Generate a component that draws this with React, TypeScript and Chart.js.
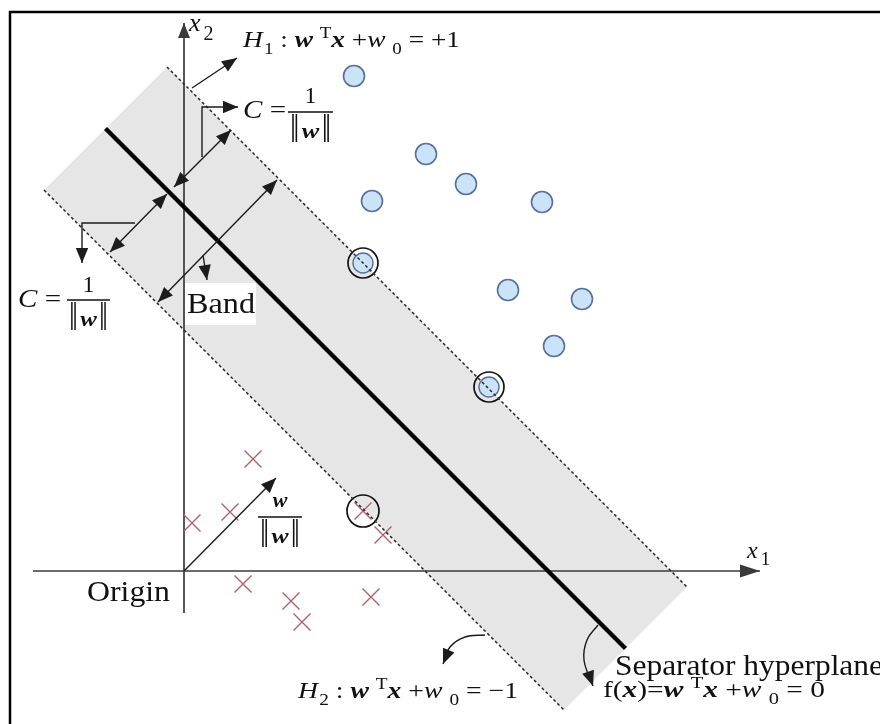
import React, { useEffect, useRef } from 'react';
import { Chart, registerables } from 'chart.js';

Chart.register(...registerables);

// Diagram coordinates (x1 horizontal, x2 vertical), origin where the axes cross.
const X_MIN = -18.4;
const X_MAX = 69.6;
const Y_MIN = -15.3;
const Y_MAX = 57.1;

type P = [number, number];

// Class +1 (blue circles)
const POS_X1 = [17.0, 24.2, 18.8, 28.2, 35.8, 32.4, 39.8, 37.0];
const POS_X2 = [49.5, 41.7, 37.0, 38.7, 36.9, 28.1, 27.2, 22.5];
// Support vectors of class +1
const SV_POS_X1 = [17.9, 30.5];
const SV_POS_X2 = [30.8, 18.4];
// Class -1 (red crosses)
const NEG_X1 = [6.9, 4.6, 0.8, 19.9, 5.9, 10.7, 11.8, 18.7];
const NEG_X2 = [11.2, 5.9, 4.8, 3.6, -1.3, -3.0, -5.1, -2.6];
// Support vector of class -1
const SV_NEG_X1 = [17.9];
const SV_NEG_X2 = [6.0];

// Hyperplanes
const H1_LINE: P[] = [[-1.7, 50.4], [50.3, -1.6]];
const H2_LINE: P[] = [[-14.0, 38.1], [38.0, -13.9]];
const SEPARATOR: P[] = [[-7.85, 44.25], [44.15, -7.75]];
const BAND: P[] = [H1_LINE[0], H1_LINE[1], H2_LINE[1], H2_LINE[0], H1_LINE[0]];

// Axes
const AXIS_X1: P[] = [[-15.1, 0], [57.6, 0]];
const AXIS_X2: P[] = [[0, -4.2], [0, 54.8]];

// Annotation arrows
const ARROWS: { pts: P[]; head: 'end' | 'both'; curve?: boolean }[] = [
  { pts: [[0, 0], [9.2, 9.3]], head: 'end' },
  { pts: [[0.8, 48.3], [5.3, 51.3]], head: 'end' },
  { pts: [[1.8, 41.4], [1.8, 46.4], [5.4, 46.4]], head: 'end' },
  { pts: [[-4.9, 34.8], [-10.2, 34.8], [-10.2, 30.8]], head: 'end' },
  { pts: [[-1.0, 38.4], [4.7, 44.1]], head: 'both' },
  { pts: [[-1.7, 37.7], [-7.4, 31.9]], head: 'both' },
  { pts: [[-2.6, 26.9], [9.3, 39.1]], head: 'both' },
  { pts: [[1.9, 31.6], [2.3, 29.1]], head: 'end' },
  { pts: [[30.1, -6.4], [28.1, -6.6], [26.6, -7.6], [25.9, -9.3]], head: 'end', curve: true },
  { pts: [[41.4, -5.4], [40.3, -6.9], [40.0, -8.9], [40.9, -11.5]], head: 'end', curve: true },
];

type Seg = { t: string; st?: string; size?: number; dx?: number; dy?: number; sy?: number };

const H1_LABEL: Seg[] = [
  { t: 'H', st: 'i' }, { t: '1', size: 16, dx: 1, dy: 7 }, { t: ' : ' }, { t: 'w', st: 'bi' }, { t: ' ' },
  { t: 'T', size: 16, dy: -9 }, { t: 'x', st: 'bi' }, { t: ' +' }, { t: 'w', st: 'i' }, { t: ' ' },
  { t: '0', size: 16, dy: 7 }, { t: ' = +1' },
];
const H2_LABEL: Seg[] = [
  { t: 'H', st: 'i' }, { t: '2', size: 16, dx: 1, dy: 7 }, { t: ' : ' }, { t: 'w', st: 'bi' }, { t: ' ' },
  { t: 'T', size: 16, dy: -9 }, { t: 'x', st: 'bi' }, { t: ' +' }, { t: 'w', st: 'i' }, { t: ' ' },
  { t: '0', size: 16, dy: 7 }, { t: ' = \u22121' },
];
const F_LABEL: Seg[] = [
  { t: 'f' }, { t: '(' }, { t: 'x', st: 'bi' }, { t: ')' }, { t: '=' }, { t: 'w', st: 'bi' }, { t: ' ' },
  { t: 'T', size: 16, dy: -9 }, { t: 'x', st: 'bi' }, { t: ' +' }, { t: 'w', st: 'i' }, { t: ' ' },
  { t: '0', size: 16, dy: 7 }, { t: ' = 0' },
];
const NORM_W: Seg[] = [
  { t: '\u2016', size: 28, dy: 4, sy: 1.45 },
  { t: 'w', st: 'bi', size: 22, dx: 2 },
  { t: '\u2016', size: 28, dx: 2, dy: 4, sy: 1.45 },
];

const FAMILY = '"Liberation Serif", "Times New Roman", "DejaVu Serif", serif';
const fontOf = (st: string | undefined, size: number) =>
  `${st && st.includes('i') ? 'italic ' : ''}${st && st.includes('b') ? 'bold ' : ''}${size}px ${FAMILY}`;

function drawRich(
  ctx: CanvasRenderingContext2D, segs: Seg[], x: number, y: number, base: number,
  align: 'left' | 'center' | 'right' = 'left', width?: number
) {
  const widths: number[] = [];
  let total = 0;
  for (const s of segs) {
    ctx.font = fontOf(s.st, s.size ?? base);
    const w = ctx.measureText(s.t).width + (s.dx ?? 0);
    widths.push(w);
    total += w;
  }
  const k = width ? width / total : 1;
  const W = total * k;
  const x0 = align === 'center' ? x - W / 2 : align === 'right' ? x - W : x;
  ctx.save();
  ctx.translate(x0, y);
  ctx.scale(k, 1);
  ctx.textBaseline = 'alphabetic';
  ctx.textAlign = 'left';
  let cx = 0;
  segs.forEach((s, i) => {
    ctx.font = fontOf(s.st, s.size ?? base);
    ctx.save();
    ctx.translate(cx + (s.dx ?? 0), s.dy ?? 0);
    if (s.sy) ctx.scale(1, s.sy);
    ctx.fillText(s.t, 0, 0);
    ctx.restore();
    cx += widths[i];
  });
  ctx.restore();
}

const toPx = (chart: any, x: number, y: number): [number, number] => [
  chart.scales.x.getPixelForValue(x),
  chart.scales.y.getPixelForValue(y),
];

function drawFraction(chart: any, ctx: CanvasRenderingContext2D, xa: number, xb: number, yBar: number, num: Seg[], numGap: number) {
  const [p0, py] = toPx(chart, xa, yBar);
  const [p1] = toPx(chart, xb, yBar);
  const cx = (p0 + p1) / 2;
  ctx.save();
  ctx.strokeStyle = '#111';
  ctx.lineWidth = 1.6;
  ctx.beginPath();
  ctx.moveTo(p0, py);
  ctx.lineTo(p1, py);
  ctx.stroke();
  ctx.restore();
  drawRich(ctx, num, cx, py - numGap, 24, 'center');
  drawRich(ctx, NORM_W, cx, py + 26, 24, 'center', p1 - p0 - 4);
}

const diagramPlugin = {
  id: 'diagram',
  beforeDraw(chart: any) {
    const { ctx, width, height } = chart;
    ctx.save();
    ctx.fillStyle = '#fff';
    ctx.fillRect(0, 0, width, height);
    ctx.restore();
  },
  afterDatasetDraw(chart: any, args: any) {
    const ds = chart.data.datasets[args.index];
    if (!ds.isBand) return;
    const ctx = chart.ctx;
    const [a, b] = toPx(chart, 0.1, 28.8);
    const [c, d] = toPx(chart, 7.2, 24.6);
    ctx.save();
    ctx.fillStyle = '#fff';
    ctx.fillRect(a, b, c - a, d - b);
    ctx.restore();
  },
  afterDatasetsDraw(chart: any) {
    const ctx: CanvasRenderingContext2D = chart.ctx;
    // arrowheads
    chart.data.datasets.forEach((ds: any, i: number) => {
      if (!ds.head) return;
      const pts = chart.getDatasetMeta(i).data;
      const n = pts.length;
      const L = ds.headLen ?? 15;
      const Wd = ds.headW ?? 6.2;
      const head = (tip: any, fx: number, fy: number) => {
        const ang = Math.atan2(tip.y - fy, tip.x - fx);
        const bx = tip.x - L * Math.cos(ang);
        const by = tip.y - L * Math.sin(ang);
        ctx.beginPath();
        ctx.moveTo(tip.x, tip.y);
        ctx.lineTo(bx + Wd * Math.sin(ang), by - Wd * Math.cos(ang));
        ctx.lineTo(bx - Wd * Math.sin(ang), by + Wd * Math.cos(ang));
        ctx.closePath();
        ctx.fill();
      };
      ctx.save();
      ctx.fillStyle = ds.borderColor;
      const last = pts[n - 1];
      let fx = pts[n - 2].x;
      let fy = pts[n - 2].y;
      if (ds.tension > 0 && last.cp1x != null && Math.hypot(last.x - last.cp1x, last.y - last.cp1y) > 1) {
        fx = last.cp1x;
        fy = last.cp1y;
      }
      head(last, fx, fy);
      if (ds.head === 'both') head(pts[0], pts[1].x, pts[1].y);
      ctx.restore();
    });

    ctx.save();
    ctx.fillStyle = '#111';
    // axis labels
    let p = toPx(chart, 0.5, 54.0);
    drawRich(ctx, [{ t: 'x', st: 'i', size: 26 }, { t: '2', size: 20, dx: 3, dy: 9 }], p[0], p[1], 26);
    p = toPx(chart, 56.3, 1.3);
    drawRich(ctx, [{ t: 'x', st: 'i', size: 24 }, { t: '1', size: 19, dx: 3, dy: 7 }], p[0], p[1], 24);
    // hyperplane labels
    p = toPx(chart, 5.9, 52.4);
    drawRich(ctx, H1_LABEL, p[0], p[1], 23, 'left', 217);
    p = toPx(chart, 11.4, -12.7);
    drawRich(ctx, H2_LABEL, p[0], p[1], 23, 'left', 220);
    p = toPx(chart, 43.1, -10.4);
    drawRich(ctx, [{ t: 'Separator hyperplane' }], p[0], p[1], 30, 'left', 268);
    p = toPx(chart, 41.9, -12.6);
    drawRich(ctx, F_LABEL, p[0], p[1], 23, 'left', 222);
    // plain labels
    p = toPx(chart, -1.4, -3.0);
    drawRich(ctx, [{ t: 'Origin' }], p[0], p[1], 30, 'right', 83);
    p = toPx(chart, 0.3, 25.8);
    drawRich(ctx, [{ t: 'Band' }], p[0], p[1], 30, 'left', 68);
    // margin labels
    p = toPx(chart, 5.9, 45.3);
    drawRich(ctx, [{ t: 'C', st: 'i' }, { t: ' =' }], p[0], p[1], 25, 'left', 43);
    drawFraction(chart, ctx, 10.4, 14.9, 45.9, [{ t: '1' }], 9);
    p = toPx(chart, -16.6, 26.4);
    drawRich(ctx, [{ t: 'C', st: 'i' }, { t: ' =' }], p[0], p[1], 25, 'left', 43);
    drawFraction(chart, ctx, -11.7, -7.4, 27.1, [{ t: '1' }], 8);
    drawFraction(chart, ctx, 7.4, 11.8, 5.4, [{ t: 'w', st: 'bi', size: 22 }], 10);
    ctx.restore();

    // frame
    ctx.save();
    ctx.strokeStyle = '#000';
    ctx.lineWidth = 2.5;
    ctx.strokeRect(10, 12, 1000, 1000);
    ctx.restore();
  },
};

const xy = (a: P[]) => a.map(([x, y]) => ({ x, y }));
const zip = (xs: number[], ys: number[]) => xs.map((x, i) => ({ x, y: ys[i] }));

export default function App() {
  const ref = useRef<HTMLCanvasElement | null>(null);

  useEffect(() => {
    if (!ref.current) return;
    const lineBase = { pointRadius: 0, fill: false, tension: 0 };
    const datasets: any[] = [
      { ...lineBase, data: xy(BAND), isBand: true, fill: 'shape', backgroundColor: '#e6e6e6', borderWidth: 0, borderColor: 'rgba(0,0,0,0)', order: 100 },
      { ...lineBase, data: xy(AXIS_X1), borderColor: '#3a3a3a', borderWidth: 1.7, head: 'end', headLen: 20, headW: 6.5, order: 90 },
      { ...lineBase, data: xy(AXIS_X2), borderColor: '#3a3a3a', borderWidth: 1.7, head: 'end', headLen: 15, headW: 6, order: 90 },
      { ...lineBase, data: xy(SEPARATOR), borderColor: '#000', borderWidth: 4.5, order: 85 },
      { data: zip(POS_X1, POS_X2), showLine: false, pointStyle: 'circle', pointRadius: 10.5, pointBackgroundColor: '#cbe3f7', pointBorderColor: '#5a6d9e', pointBorderWidth: 1.6, order: 70 },
      { data: zip(SV_POS_X1, SV_POS_X2), showLine: false, pointStyle: 'circle', pointRadius: 15, pointBackgroundColor: 'rgba(0,0,0,0)', pointBorderColor: '#111', pointBorderWidth: 1.7, order: 69 },
      { data: zip(SV_POS_X1, SV_POS_X2), showLine: false, pointStyle: 'circle', pointRadius: 10, pointBackgroundColor: '#cbe3f7', pointBorderColor: '#5a6d9e', pointBorderWidth: 1.4, order: 68 },
      { data: zip(NEG_X1, NEG_X2), showLine: false, pointStyle: 'crossRot', pointRadius: 12, pointBorderColor: '#b25f63', pointBorderWidth: 1.3, order: 67 },
      { data: zip(SV_NEG_X1, SV_NEG_X2), showLine: false, pointStyle: 'crossRot', pointRadius: 12, pointBorderColor: '#b25f63', pointBorderWidth: 1.3, order: 66 },
      { data: zip(SV_NEG_X1, SV_NEG_X2), showLine: false, pointStyle: 'circle', pointRadius: 16, pointBackgroundColor: 'rgba(0,0,0,0)', pointBorderColor: '#111', pointBorderWidth: 1.7, order: 65 },
      { ...lineBase, data: xy(H1_LINE), borderColor: '#2a2a2a', borderWidth: 1.5, borderDash: [3, 2.5], order: 50 },
      { ...lineBase, data: xy(H2_LINE), borderColor: '#2a2a2a', borderWidth: 1.5, borderDash: [3, 2.5], order: 50 },
      ...ARROWS.map((a) => ({
        ...lineBase,
        data: xy(a.pts),
        borderColor: '#1c1c1c',
        borderWidth: 1.4,
        tension: a.curve ? 0.4 : 0,
        head: a.head,
        order: 40,
      })),
    ];

    const chart = new Chart(ref.current, {
      type: 'line',
      data: { datasets },
      options: {
        responsive: false,
        animation: false,
        devicePixelRatio: 1,
        events: [],
        layout: { padding: 0, autoPadding: false },
        plugins: { legend: { display: false }, tooltip: { enabled: false } },
        scales: {
          x: { type: 'linear', min: X_MIN, max: X_MAX, display: false },
          y: { type: 'linear', min: Y_MIN, max: Y_MAX, display: false },
        },
      } as any,
      plugins: [diagramPlugin as any],
    });
    return () => chart.destroy();
  }, []);

  return (
    <div style={{ position: 'absolute', left: 0, top: 0, width: 880, height: 724, background: '#fff' }}>
      <canvas ref={ref} width={880} height={724} style={{ display: 'block' }} />
    </div>
  );
}
